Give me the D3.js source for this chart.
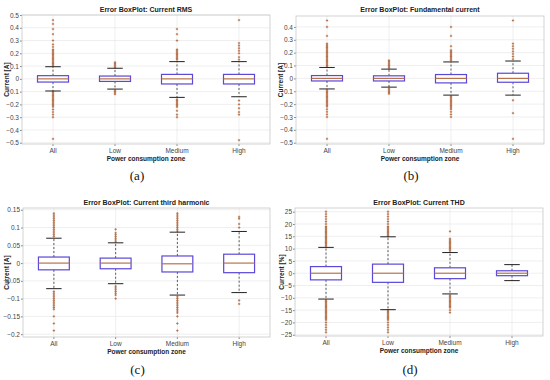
<!DOCTYPE html>
<html>
<head>
<meta charset="utf-8">
<script src="https://cdn.jsdelivr.net/npm/d3@7"></script>
<style>
  body { margin: 0; background: #fff; }
  svg { display: block; font-family: 'Liberation Sans', Arial, sans-serif; }
</style>
</head>
<body>
<div id="chart"></div>
<script>
// Four MATLAB-style box plots of estimation error per power consumption zone.

const categories = ['All', 'Low', 'Medium', 'High'];

const titles = [
  'Error BoxPlot: Current RMS',
  'Error BoxPlot: Fundamental current',
  'Error BoxPlot: Current third harmonic',
  'Error BoxPlot: Current THD',
];
const yLabels = ['Current [A]', 'Current [A]', 'Current [A]', 'Current [%]'];
const subCaptions = ['(a)', '(b)', '(c)', '(d)'];

// tick values per panel
const ticksA = [-0.5, -0.4, -0.3, -0.2, -0.1, 0, 0.1, 0.2, 0.3, 0.4, 0.5];
const ticksB = [-0.5, -0.4, -0.3, -0.2, -0.1, 0, 0.1, 0.2, 0.3, 0.4];
const ticksC = [-0.2, -0.15, -0.1, -0.05, 0, 0.05, 0.1, 0.15];
const ticksD = [-25, -20, -15, -10, -5, 0, 5, 10, 15, 20, 25];

// box stats: [lowWhisker, q1, median, q3, highWhisker] for All, Low, Medium, High
const statsA = [
  [-0.095, -0.025, 0, 0.025, 0.095],
  [-0.080, -0.020, 0, 0.022, 0.083],
  [-0.145, -0.040, 0, 0.035, 0.135],
  [-0.140, -0.040, 0, 0.035, 0.135],
];
const statsB = [
  [-0.082, -0.020, 0, 0.022, 0.085],
  [-0.068, -0.020, 0, 0.020, 0.072],
  [-0.130, -0.035, 0, 0.030, 0.128],
  [-0.130, -0.030, 0, 0.040, 0.135],
];
const statsC = [
  [-0.072, -0.019, 0, 0.017, 0.070],
  [-0.058, -0.016, 0, 0.014, 0.057],
  [-0.090, -0.025, -0.002, 0.020, 0.087],
  [-0.083, -0.027, 0, 0.025, 0.089],
];
const statsD = [
  [-10.5, -2.7, 0, 2.7, 10.5],
  [-14.8, -3.7, 0, 3.7, 14.8],
  [-8.4, -2.2, 0, 2.2, 8.4],
  [-3.0, -1.0, 0, 1.0, 3.5],
];

// outliers per category
const outliersA = [
  [0.10, 0.11, 0.12, 0.13, 0.14, 0.15, 0.16, 0.17, 0.18, 0.19, 0.20, 0.21, 0.22, 0.23, 0.25, 0.27, 0.30, 0.35, 0.39, 0.43, 0.46,
   -0.10, -0.11, -0.12, -0.13, -0.14, -0.15, -0.16, -0.17, -0.18, -0.19, -0.20, -0.21, -0.22, -0.24, -0.26, -0.28, -0.30, -0.47],
  [0.09, 0.10, 0.11, 0.12, 0.13, -0.09, -0.10, -0.11, -0.12],
  [0.15, 0.16, 0.17, 0.18, 0.19, 0.20, 0.21, 0.22, 0.23, 0.30, 0.35, 0.39,
   -0.16, -0.17, -0.18, -0.19, -0.20, -0.21, -0.22, -0.25, -0.28, -0.30],
  [0.15, 0.17, 0.20, 0.22, 0.24, 0.26, 0.28, 0.46, -0.17, -0.20, -0.23, -0.26, -0.28, -0.48],
];
const outliersB = [
  [0.09, 0.10, 0.11, 0.12, 0.13, 0.14, 0.15, 0.16, 0.17, 0.18, 0.19, 0.20, 0.21, 0.22, 0.23, 0.24, 0.25, 0.26, 0.27, 0.33, 0.40, 0.45,
   -0.09, -0.10, -0.11, -0.12, -0.13, -0.14, -0.15, -0.16, -0.17, -0.18, -0.19, -0.20, -0.21, -0.22, -0.24, -0.26, -0.28, -0.30, -0.47],
  [0.08, 0.09, 0.10, 0.11, 0.12, 0.13, 0.14, -0.08, -0.09, -0.10, -0.11, -0.12],
  [0.14, 0.15, 0.16, 0.17, 0.18, 0.19, 0.20, 0.21, 0.22, 0.25, 0.33, 0.40,
   -0.14, -0.15, -0.16, -0.17, -0.18, -0.19, -0.20, -0.21, -0.22, -0.23, -0.24, -0.26, -0.28, -0.30],
  [0.15, 0.17, 0.19, 0.21, 0.23, 0.25, 0.27, 0.45, -0.17, -0.27, -0.47],
];
const outliersC = [
  [0.075, 0.08, 0.085, 0.09, 0.095, 0.10, 0.105, 0.11, 0.115, 0.12, 0.125, 0.13, 0.135, 0.14,
   -0.08, -0.085, -0.09, -0.095, -0.10, -0.105, -0.11, -0.115, -0.12, -0.125, -0.13, -0.15, -0.17, -0.19],
  [0.06, 0.065, 0.07, 0.075, 0.08, 0.085, 0.095, -0.065, -0.07, -0.075, -0.08, -0.085, -0.09, -0.10],
  [0.09, 0.095, 0.10, 0.105, 0.11, 0.115, 0.12, 0.125, 0.13, 0.135, 0.14,
   -0.095, -0.10, -0.105, -0.11, -0.115, -0.12, -0.125, -0.13, -0.135, -0.14, -0.15, -0.17, -0.19],
  [0.10, 0.11, 0.125, 0.13, -0.105, -0.115],
];
const outliersD = [
  [11, 11.5, 12, 12.5, 13, 13.5, 14, 14.5, 15, 15.5, 16, 16.5, 17, 17.5, 18, 18.5, 19, 20, 21, 22, 23, 24, 25,
   -11, -11.5, -12, -12.5, -13, -13.5, -14, -14.5, -15, -15.5, -16, -16.5, -17, -17.5, -18, -18.5, -19, -20, -21, -22, -23, -24],
  [15, 15.5, 16, 16.5, 17, 17.5, 18, 18.5, 19, 20, 21, 22, 23, 24, 25,
   -15, -15.5, -16, -16.5, -17, -17.5, -18, -18.5, -19, -20, -21, -22, -23, -24],
  [9, 9.5, 10, 10.5, 11, 11.5, 12, 12.5, 13, 13.5, 14, 17, -9, -9.5, -10, -10.5, -11, -11.5, -12, -12.5, -13, -13.5, -14, -15, -16],
  [],
];

const panels = [
  { box: [22, 15, 270, 144], domain: [-0.51, 0.5], ticks: ticksA, stats: statsA, out: outliersA, ylx: 7, tyY: 12, capY: 180 },
  { box: [296, 16, 544, 144], domain: [-0.51, 0.485], ticks: ticksB, stats: statsB, out: outliersB, ylx: 281, tyY: 12, capY: 180 },
  { box: [23, 208, 270, 337], domain: [-0.208, 0.155], ticks: ticksC, stats: statsC, out: outliersC, ylx: 7, tyY: 205, capY: 374 },
  { box: [295, 208, 543, 336], domain: [-25.5, 26.5], ticks: ticksD, stats: statsD, out: outliersD, ylx: 282, tyY: 205, capY: 374 },
];

const W = 550, H = 380;
const BOX_COLOR = '#5a48d8';
const MED_COLOR = '#b8734a';
const OUT_COLOR = '#b0643a';

const svg = d3.select('#chart').append('svg')
  .attr('width', W).attr('height', H);

panels.forEach((p, pi) => {
  const [x0, y0, x1, y1] = p.box;
  const x = d3.scaleBand().domain(categories).range([x0, x1]);
  const y = d3.scaleLinear().domain(p.domain).range([y1, y0]);
  const bw = x.bandwidth();
  const g = svg.append('g');

  // grid
  g.selectAll('.hgrid').data(p.ticks).enter().append('line')
    .attr('x1', x0).attr('x2', x1)
    .attr('y1', d => y(d)).attr('y2', d => y(d))
    .attr('stroke', '#e4e4e4').attr('stroke-width', 0.6);
  g.selectAll('.vgrid').data(categories).enter().append('line')
    .attr('x1', d => x(d) + bw / 2).attr('x2', d => x(d) + bw / 2)
    .attr('y1', y0).attr('y2', y1)
    .attr('stroke', '#e4e4e4').attr('stroke-width', 0.6);

  // y axis
  g.append('g')
    .attr('transform', `translate(${x0},0)`)
    .call(d3.axisLeft(y).tickValues(p.ticks).tickSize(2).tickFormat(d3.format('')))
    .call(ax => ax.select('.domain').remove())
    .call(ax => ax.selectAll('.tick line').attr('stroke', '#888'))
    .call(ax => ax.selectAll('.tick text').attr('fill', '#444').attr('font-size', 6.5)
      .attr('font-family', "'Liberation Sans', Arial, sans-serif").attr('x', -3));

  // x axis
  g.append('g')
    .attr('transform', `translate(0,${y1})`)
    .call(d3.axisBottom(x).tickSize(2))
    .call(ax => ax.select('.domain').remove())
    .call(ax => ax.selectAll('.tick line').attr('stroke', '#888'))
    .call(ax => ax.selectAll('.tick text').attr('fill', '#444').attr('font-size', 6.5)
      .attr('font-family', "'Liberation Sans', Arial, sans-serif").attr('y', 4));

  // frame
  g.append('rect')
    .attr('x', x0).attr('y', y0).attr('width', x1 - x0).attr('height', y1 - y0)
    .attr('fill', 'none').attr('stroke', '#c8c8c8').attr('stroke-width', 0.8);

  // boxes
  categories.forEach((c, ci) => {
    const [lo, q1, med, q3, hi] = p.stats[ci];
    const cx = x(c) + bw / 2;
    const half = bw * 0.25;
    const cap = bw * 0.125;

    // whiskers
    g.append('line').attr('x1', cx).attr('x2', cx).attr('y1', y(q3)).attr('y2', y(hi))
      .attr('stroke', '#333').attr('stroke-width', 0.8).attr('stroke-dasharray', '2,2');
    g.append('line').attr('x1', cx).attr('x2', cx).attr('y1', y(q1)).attr('y2', y(lo))
      .attr('stroke', '#333').attr('stroke-width', 0.8).attr('stroke-dasharray', '2,2');

    // outliers (small red plus markers)
    g.selectAll(null).data(p.out[ci]).enter().append('path')
      .attr('d', v => `M${cx - 1.2},${y(v)}h2.4M${cx},${y(v) - 1.2}v2.4`)
      .attr('stroke', OUT_COLOR).attr('stroke-width', 0.8);

    // caps
    [lo, hi].forEach(v => {
      g.append('line').attr('x1', cx - cap).attr('x2', cx + cap).attr('y1', y(v)).attr('y2', y(v))
        .attr('stroke', '#222').attr('stroke-width', 1);
    });

    g.append('rect')
      .attr('x', cx - half).attr('y', y(q3)).attr('width', half * 2).attr('height', y(q1) - y(q3))
      .attr('fill', '#fff').attr('stroke', BOX_COLOR).attr('stroke-width', 1.2);
    g.append('line').attr('x1', cx - half).attr('x2', cx + half).attr('y1', y(med)).attr('y2', y(med))
      .attr('stroke', MED_COLOR).attr('stroke-width', 1.2);
  });

  const mid = (x0 + x1) / 2;
  g.append('text').attr('x', mid).attr('y', p.tyY).attr('text-anchor', 'middle')
    .attr('font-size', 7).attr('font-weight', 'bold').attr('fill', '#222').text(titles[pi]);
  g.append('text').attr('x', mid).attr('y', y1 + 17).attr('text-anchor', 'middle')
    .attr('font-size', 6.5).attr('font-weight', 'bold').attr('fill', '#222').text('Power consumption zone');
  g.append('text')
    .attr('transform', `translate(${p.ylx},${(y0 + y1) / 2}) rotate(-90)`)
    .attr('text-anchor', 'middle').attr('dy', '0.35em')
    .attr('font-size', 6.5).attr('font-weight', 'bold').attr('fill', '#222').text(yLabels[pi]);
  g.append('text').attr('x', mid - 9).attr('y', p.capY).attr('text-anchor', 'middle')
    .attr('font-family', "'Liberation Serif', 'DejaVu Serif', serif").attr('font-size', 13)
    .attr('fill', '#111').text(subCaptions[pi]);
});
</script>
</body>
</html>
